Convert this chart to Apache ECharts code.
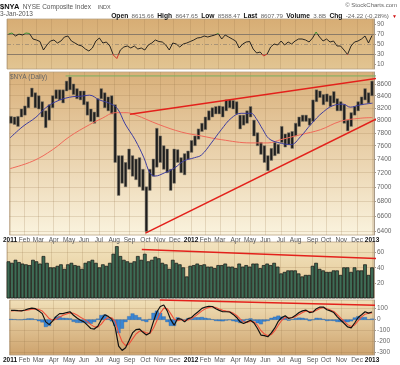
<!DOCTYPE html>
<html><head><meta charset="utf-8">
<script src="https://cdn.jsdelivr.net/npm/echarts@6/dist/echarts.min.js"></script>
<style>html,body{margin:0;padding:0;background:#fff}#c{width:400px;height:365px}</style>
</head><body><div id="c"></div>
<script>
const weekDates = ['2011-01-05','2011-01-12','2011-01-19','2011-01-26','2011-02-02','2011-02-09','2011-02-16','2011-02-23','2011-03-02','2011-03-09','2011-03-16','2011-03-23','2011-03-30','2011-04-06','2011-04-13','2011-04-20','2011-04-27','2011-05-04','2011-05-11','2011-05-18','2011-05-25','2011-06-01','2011-06-08','2011-06-15','2011-06-22','2011-06-29','2011-07-06','2011-07-13','2011-07-20','2011-07-27','2011-08-03','2011-08-10','2011-08-17','2011-08-24','2011-08-31','2011-09-07','2011-09-14','2011-09-21','2011-09-28','2011-10-05','2011-10-12','2011-10-19','2011-10-26','2011-11-02','2011-11-09','2011-11-16','2011-11-23','2011-11-30','2011-12-07','2011-12-14','2011-12-21','2011-12-28',
'2012-01-04','2012-01-11','2012-01-18','2012-01-25','2012-02-01','2012-02-08','2012-02-15','2012-02-22','2012-02-29','2012-03-07','2012-03-14','2012-03-21','2012-03-28','2012-04-04','2012-04-11','2012-04-18','2012-04-25','2012-05-02','2012-05-09','2012-05-16','2012-05-23','2012-05-30','2012-06-06','2012-06-13','2012-06-20','2012-06-27','2012-07-04','2012-07-11','2012-07-18','2012-07-25','2012-08-01','2012-08-08','2012-08-15','2012-08-22','2012-08-29','2012-09-05','2012-09-12','2012-09-19','2012-09-26','2012-10-03','2012-10-10','2012-10-17','2012-10-24','2012-10-31','2012-11-07','2012-11-14','2012-11-21','2012-11-28','2012-12-05','2012-12-12','2012-12-19','2012-12-26','2013-01-02'];

const priceLow = [7950,7930,7900,8050,8080,8200,8380,8200,8180,8050,7880,8000,8200,8350,8330,8280,8480,8500,8420,8350,8330,8250,8080,7980,7950,8050,8350,8200,8150,8100,7350,6880,7050,7000,7250,7150,7100,7000,6950,6400,6950,7150,7280,7350,7250,7200,6950,7050,7350,7200,7170,7400,
7500,7600,7700,7820,7850,8000,8050,8100,8100,8050,8150,8200,8180,8100,7860,7920,7950,8050,7750,7600,7470,7350,7230,7380,7450,7480,7650,7580,7620,7560,7750,7900,7980,7980,7920,7980,8300,8370,8250,8300,8220,8280,8150,8150,7950,7830,7900,8080,8150,8250,8330,8280,8400];
const priceHigh = [8060,8050,8060,8180,8230,8380,8530,8450,8400,8300,8150,8250,8400,8500,8500,8500,8650,8720,8600,8520,8480,8480,8300,8180,8130,8350,8520,8450,8380,8400,8250,7450,7450,7350,7550,7450,7400,7420,7250,7000,7250,7400,7870,7750,7600,7550,7250,7550,7540,7420,7480,7520,
7680,7750,7860,7950,8050,8150,8200,8220,8230,8220,8330,8330,8320,8300,8080,8080,8150,8220,8000,7800,7650,7600,7450,7560,7650,7620,7900,7780,7800,7820,7950,8050,8080,8080,8030,8330,8500,8480,8420,8430,8400,8470,8350,8300,8250,8000,8120,8220,8300,8380,8520,8450,8650];

const volume = [48,46,50,47,45,44,43,50,48,45,55,46,40,40,42,44,38,44,46,43,42,38,46,48,50,46,40,44,42,46,58,68,55,50,48,46,48,55,50,58,48,50,54,52,46,44,38,50,46,44,40,28,
42,43,45,43,44,41,41,39,43,43,45,41,41,39,45,41,43,41,45,45,39,43,45,43,46,41,32,34,36,36,36,32,28,30,30,42,46,38,36,34,34,36,36,30,40,40,34,40,36,36,44,30,40];

const rsi = [70,72,66,70,68,72,71,60,58,55,38,48,56,58,52,56,64,66,56,52,48,46,40,36,42,56,62,52,54,46,28,21,38,44,46,42,46,40,42,38,48,52,58,55,54,48,38,52,50,44,50,52,
55,58,62,63,66,64,66,68,71,60,68,64,60,56,42,50,54,55,40,32,34,26,30,44,50,48,56,48,54,50,56,60,60,58,54,62,74,64,56,60,54,56,46,46,38,29,46,54,56,60,66,52,67];

const macd = [85,85,82,80,88,98,105,100,80,55,-20,-45,-10,30,55,55,65,72,40,15,-5,-20,-50,-80,-85,-60,0,45,30,5,-70,-240,-280,-255,-190,-120,-90,-85,-115,-140,-120,-20,70,120,133,80,0,-50,10,5,-20,10,
20,50,75,103,115,122,120,100,85,72,72,70,48,20,-20,-35,-20,-5,-30,-80,-140,-145,-155,-120,-75,-15,20,35,11,20,40,65,80,87,65,70,100,115,115,90,80,65,26,-5,-35,-66,-75,-30,20,45,72,60,70];
const macdSignal = [80,82,83,82,83,88,95,98,92,78,45,10,-5,5,25,40,52,62,58,42,22,5,-18,-45,-65,-68,-40,0,20,18,-15,-120,-200,-235,-220,-175,-130,-105,-105,-120,-125,-80,-10,60,105,100,55,5,-10,0,-8,-2,
10,30,55,80,100,112,118,110,97,85,78,73,60,38,8,-18,-25,-15,-20,-50,-100,-130,-145,-135,-100,-50,-5,20,18,18,28,48,65,78,75,72,85,102,110,100,88,75,45,15,-15,-45,-62,-48,-10,25,50,58,62];
const macdHist = [5,3,-1,-2,5,10,10,2,-12,-23,-65,-55,-5,25,30,15,13,10,-18,-27,-27,-25,-32,-35,-20,8,40,45,10,-13,-55,-120,-80,-20,30,55,40,20,-10,-20,5,60,80,60,28,-20,-55,-55,20,5,-12,12,
10,20,20,23,15,10,2,-10,-12,-13,-6,-3,-12,-18,-28,-17,5,10,-10,-30,-40,-15,-10,15,25,35,25,15,-7,2,12,17,15,9,-10,-2,15,13,5,-10,-8,-10,-19,-20,-20,-21,-13,18,30,20,22,2,8];

const ma50 = [['2011-01-03',7720],['2011-01-29',7900],['2011-02-24',8045],['2011-03-16',8200],['2011-04-05',8300],['2011-05-03',8375],['2011-05-29',8395],['2011-06-12',8410],['2011-07-02',8331],['2011-07-22',8276],['2011-08-07',8192],['2011-08-23',7940],['2011-09-12',7693],['2011-09-30',7418],['2011-10-12',7199],['2011-10-22',7152],['2011-11-11',7200],['2011-12-01',7270],['2011-12-19',7370],['2012-01-10',7420],['2012-01-24',7460],['2012-02-13',7643],['2012-03-04',7848],['2012-03-24',8030],['2012-04-13',8110],['2012-05-03',8110],['2012-05-13',8030],['2012-05-27',7848],['2012-06-08',7710],['2012-06-26',7650],['2012-07-22',7617],['2012-08-11',7740],['2012-08-31',7926],['2012-09-26',8135],['2012-10-20',8248],['2012-11-05',8260],['2012-11-19',8210],['2012-12-09',8248],['2013-01-03',8276]];
const ma200 = [['2011-01-03',7260],['2011-02-18',7370],['2011-03-30',7541],['2011-05-03',7740],['2011-06-12',7926],['2011-07-08',8030],['2011-08-03',8120],['2011-08-25',8120],['2011-09-12',8086],['2011-10-30',7930],['2011-12-15',7810],['2012-01-24',7750],['2012-03-04',7693],['2012-05-03',7643],['2012-06-06',7643],['2012-07-02',7693],['2012-08-11',7770],['2012-09-20',7848],['2012-10-30',7980],['2012-12-09',8030],['2013-01-03',8040]];

const upperTrend = [['2011-09-02',8094],['2013-02-21',8747]];
const lowerTrend = [['2011-10-03',6380],['2013-02-21',8182]];
const resistance = [['2011-04-25',8740],['2013-01-20',8740]];
const volTrend = [['2011-09-29',64],['2013-01-14',52]];
const macdTrend = [['2011-11-01',179],['2013-01-14',130]];

const monthTicks = ['2011-01-03','2011-02-01','2011-03-01','2011-04-01','2011-05-02','2011-06-01','2011-07-01','2011-08-01','2011-09-01','2011-10-03','2011-11-01','2011-12-01','2012-01-03','2012-02-01','2012-03-01','2012-04-02','2012-05-01','2012-06-01','2012-07-02','2012-08-01','2012-09-04','2012-10-01','2012-11-01','2012-12-03','2013-01-02'];
const monthLabels = ['2011','Feb','Mar','Apr','May','Jun','Jul','Aug','Sep','Oct','Nov','Dec','2012','Feb','Mar','Apr','May','Jun','Jul','Aug','Sep','Oct','Nov','Dec','2013'];
const priceTicks = [6400,6600,6800,7000,7200,7400,7600,7800,8000,8200,8400,8600];
const rsiTicks = [10,30,50,70,90];
const volTicks = [20,40,60];
const macdTicks = [-300,-200,-100,0,100];

const FONT = 'Liberation Sans, Arial, sans-serif';
const chart = echarts.init(document.getElementById('c'), null, {renderer:'canvas'});
const ts = s => { const p = s.split('-'); return Date.UTC(+p[0], +p[1]-1, +p[2]); };
const monthTs = monthTicks.map(ts);
function monthFmt(v){
  let best = 0, bd = Infinity;
  monthTs.forEach((t,i)=>{ const d = Math.abs(t - v); if (d < bd){bd = d; best = i;} });
  const l = monthLabels[best];
  return /^\d{4}$/.test(l) ? '{y|' + l + '}' : '{m|' + l + '}';
}
const X_MIN = ts('2011-01-02'), X_MAX = ts('2013-01-06');
const gridLine = {show:true, lineStyle:{color:'rgba(150,115,70,0.35)', width:0.6}};
function xAxis(i, showLabel){
  return {type:'value', gridIndex:i, min:X_MIN, max:X_MAX, scale:true,
    axisLine:{show:false}, axisTick:{show:false, customValues:monthTs},
    splitLine:gridLine,
    axisLabel:{show:showLabel, customValues:monthTs, formatter:monthFmt, margin:1.5, hideOverlap:false,
      rich:{y:{fontFamily:FONT,fontSize:6.5,fontWeight:'bold',color:'#111'}, m:{fontFamily:FONT,fontSize:6.5,color:'#555'}}}};
}
function yAxis(i, min, max, ticks, fmt, split){
  return {type:'value', gridIndex:i, position:'right', min:min, max:max,
    axisLine:{show:true, lineStyle:{color:'#a89a88', width:1}},
    axisTick:{show:true, length:2, customValues:ticks, lineStyle:{color:'#a89a88'}},
    splitLine: split ? gridLine : {show:false},
    axisLabel:{customValues:ticks, formatter:fmt, margin:3, fontFamily:FONT, fontSize:6.5, color:'#666'}};
}
const grad = (a,b) => ({type:'linear', x:0, y:0, x2:0, y2:1, colorStops:[{offset:0,color:a},{offset:1,color:b}]});
const gridBase = {left:7, width:367, show:true, borderColor:'#b9a284', borderWidth:0.8};
const lnPair = d => [ts(d[0]), Math.log(d[1])];
const tsPair = d => [ts(d[0]), d[1]];
const WEEK = 7*864e5;

const priceData = weekDates.map((d,i)=>[ts(d), Math.log(priceLow[i]), Math.log(priceHigh[i])]);

const option = {
  animation:false,
  backgroundColor:'#ffffff',
  textStyle:{fontFamily:FONT},
  grid:[
    Object.assign({}, gridBase, {top:19, height:50, backgroundColor:grad('#d7ad74','#e2c592')}),
    Object.assign({}, gridBase, {top:72, height:163, backgroundColor:grad('#d9b07a','#faf3de')}),
    Object.assign({}, gridBase, {top:242, height:56, backgroundColor:grad('#f2e3bf','#e2c590')}),
    Object.assign({}, gridBase, {top:300, height:55, backgroundColor:grad('#f1e0b8','#cda26c')})
  ],
  xAxis:[xAxis(0,false), xAxis(1,true), xAxis(2,false), xAxis(3,true)],
  yAxis:[
    yAxis(0, 0, 100, rsiTicks, v=>String(v), false),
    yAxis(1, Math.log(6356), Math.log(8809), priceTicks.map(Math.log), v=>String(Math.round(Math.exp(v))), true),
    yAxis(2, 0, 74, volTicks, v=>String(v), true),
    yAxis(3, -321, 179, macdTicks, v=>String(v), true)
  ],
  visualMap:[{type:'piecewise', show:false, seriesIndex:0, dimension:1,
    pieces:[{lt:30,color:'#cc1f1a'},{gte:30,lte:70,color:'#151515'},{gt:70,color:'#2a8a2a'}]}],
  series:[
    {type:'line', xAxisIndex:0, yAxisIndex:0, data:weekDates.map((d,i)=>[ts(d),rsi[i]]), symbol:'none', lineStyle:{width:0.9}, z:5,
      markLine:{silent:true, symbol:'none', label:{show:false},
        data:[{yAxis:70, lineStyle:{color:'#8c7c68', width:1, type:'solid'}},
              {yAxis:30, lineStyle:{color:'#8c7c68', width:1, type:'solid'}},
              {yAxis:50, lineStyle:{color:'#9c8a72', width:0.8, type:[4,2,1,2]}}]}},
    {type:'custom', xAxisIndex:1, yAxisIndex:1, data:priceData, z:4,
      renderItem:function(params, api){
        const x = api.value(0);
        const lo = api.coord([x, api.value(1)]);
        const hi = api.coord([x, api.value(2)]);
        const w = api.size([WEEK, 0])[0] * 0.75;
        return {type:'rect', shape:{x:lo[0]-w/2, y:hi[1], width:w, height:Math.max(1, lo[1]-hi[1])},
          style:{fill:'#1e1e1e', stroke:'#7a7468', lineWidth:0.5}};
      }},
    {type:'line', xAxisIndex:1, yAxisIndex:1, data:ma200.map(lnPair), symbol:'none', smooth:0.4, lineStyle:{color:'#f06a5a', width:1}, z:5},
    {type:'line', xAxisIndex:1, yAxisIndex:1, data:ma50.map(lnPair), symbol:'none', smooth:0.4, lineStyle:{color:'#3c3ca0', width:1}, z:5},
    {type:'line', xAxisIndex:1, yAxisIndex:1, data:upperTrend.map(lnPair), symbol:'none', clip:false, lineStyle:{color:'#e3211b', width:1.6}, z:6},
    {type:'line', xAxisIndex:1, yAxisIndex:1, data:lowerTrend.map(lnPair), symbol:'none', clip:false, lineStyle:{color:'#e3211b', width:1.6}, z:6},
    {type:'line', xAxisIndex:1, yAxisIndex:1, data:resistance.map(lnPair), symbol:'none', clip:false, lineStyle:{color:'#78b060', width:1}, z:5},
    {type:'custom', xAxisIndex:2, yAxisIndex:2, data:weekDates.map((d,i)=>[ts(d),volume[i]]), z:4,
      renderItem:function(params, api){
        const x = api.value(0);
        const top = api.coord([x, api.value(1)]);
        const base = api.coord([x, 0]);
        const w = api.size([WEEK, 0])[0] * 0.85;
        return {type:'rect', shape:{x:top[0]-w/2, y:top[1], width:w, height:base[1]-top[1]},
          style:{fill:'#3f6c55', stroke:'#141414', lineWidth:0.7}};
      }},
    {type:'line', xAxisIndex:2, yAxisIndex:2, data:volTrend.map(tsPair), symbol:'none', clip:false, lineStyle:{color:'#e3211b', width:1.4}, z:6},
    {type:'custom', xAxisIndex:3, yAxisIndex:3, data:weekDates.map((d,i)=>[ts(d),macdHist[i]]), z:3,
      renderItem:function(params, api){
        const x = api.value(0);
        const p = api.coord([x, api.value(1)]);
        const base = api.coord([x, 0]);
        const w = api.size([WEEK, 0])[0];
        return {type:'rect', shape:{x:p[0]-w/2, y:Math.min(p[1],base[1]), width:w, height:Math.abs(base[1]-p[1])},
          style:{fill:'#3a86d4', stroke:'#1f5aa0', lineWidth:0.3}};
      }},
    {type:'line', xAxisIndex:3, yAxisIndex:3, data:weekDates.map((d,i)=>[ts(d),macdSignal[i]]), symbol:'none', lineStyle:{color:'#f0503c', width:1.1}, z:5},
    {type:'line', xAxisIndex:3, yAxisIndex:3, data:weekDates.map((d,i)=>[ts(d),macd[i]]), symbol:'none', lineStyle:{color:'#111', width:1.2}, z:6},
    {type:'line', xAxisIndex:3, yAxisIndex:3, data:macdTrend.map(tsPair), symbol:'none', clip:false, lineStyle:{color:'#e3211b', width:1.4}, z:6}
  ],
  graphic:[
    {type:'text', left:0, top:1, style:{text:'{b|$NYA} {g|NYSE Composite Index}  {s|INDX}',
      rich:{b:{fontFamily:FONT,fontSize:7.5,fontWeight:'bold',fill:'#111'}, g:{fontFamily:FONT,fontSize:6.5,fill:'#555'}, s:{fontFamily:FONT,fontSize:5.5,fill:'#555'}}}},
    {type:'text', right:3, top:2, style:{text:'© StockCharts.com', fontFamily:FONT, fontSize:6, fill:'#666'}},
    {type:'text', left:0, top:10.5, style:{text:'3-Jan-2013', fontFamily:FONT, fontSize:6.5, fill:'#555'}},
    {type:'text', right:3, top:10.5, style:{text:'{b|Open} {g|8615.66} {b|High} {g|8647.65} {b|Low} {g|8588.47} {b|Last} {g|8607.79} {b|Volume} {g|3.8B} {b|Chg} {g|-24.22 (-0.28%)} {r|▼}',
      rich:{b:{fontFamily:FONT,fontSize:6.7,fontWeight:'bold',fill:'#111'}, g:{fontFamily:FONT,fontSize:6.2,fill:'#666'}, r:{fontFamily:FONT,fontSize:5,fill:'#d01010'}}}},
    {type:'text', left:10, top:74, z:10, style:{text:'$NYA (Daily)', fontFamily:FONT, fontSize:6.5, fill:'#666'}}
  ]
};
chart.setOption(option);
</script></body></html>
